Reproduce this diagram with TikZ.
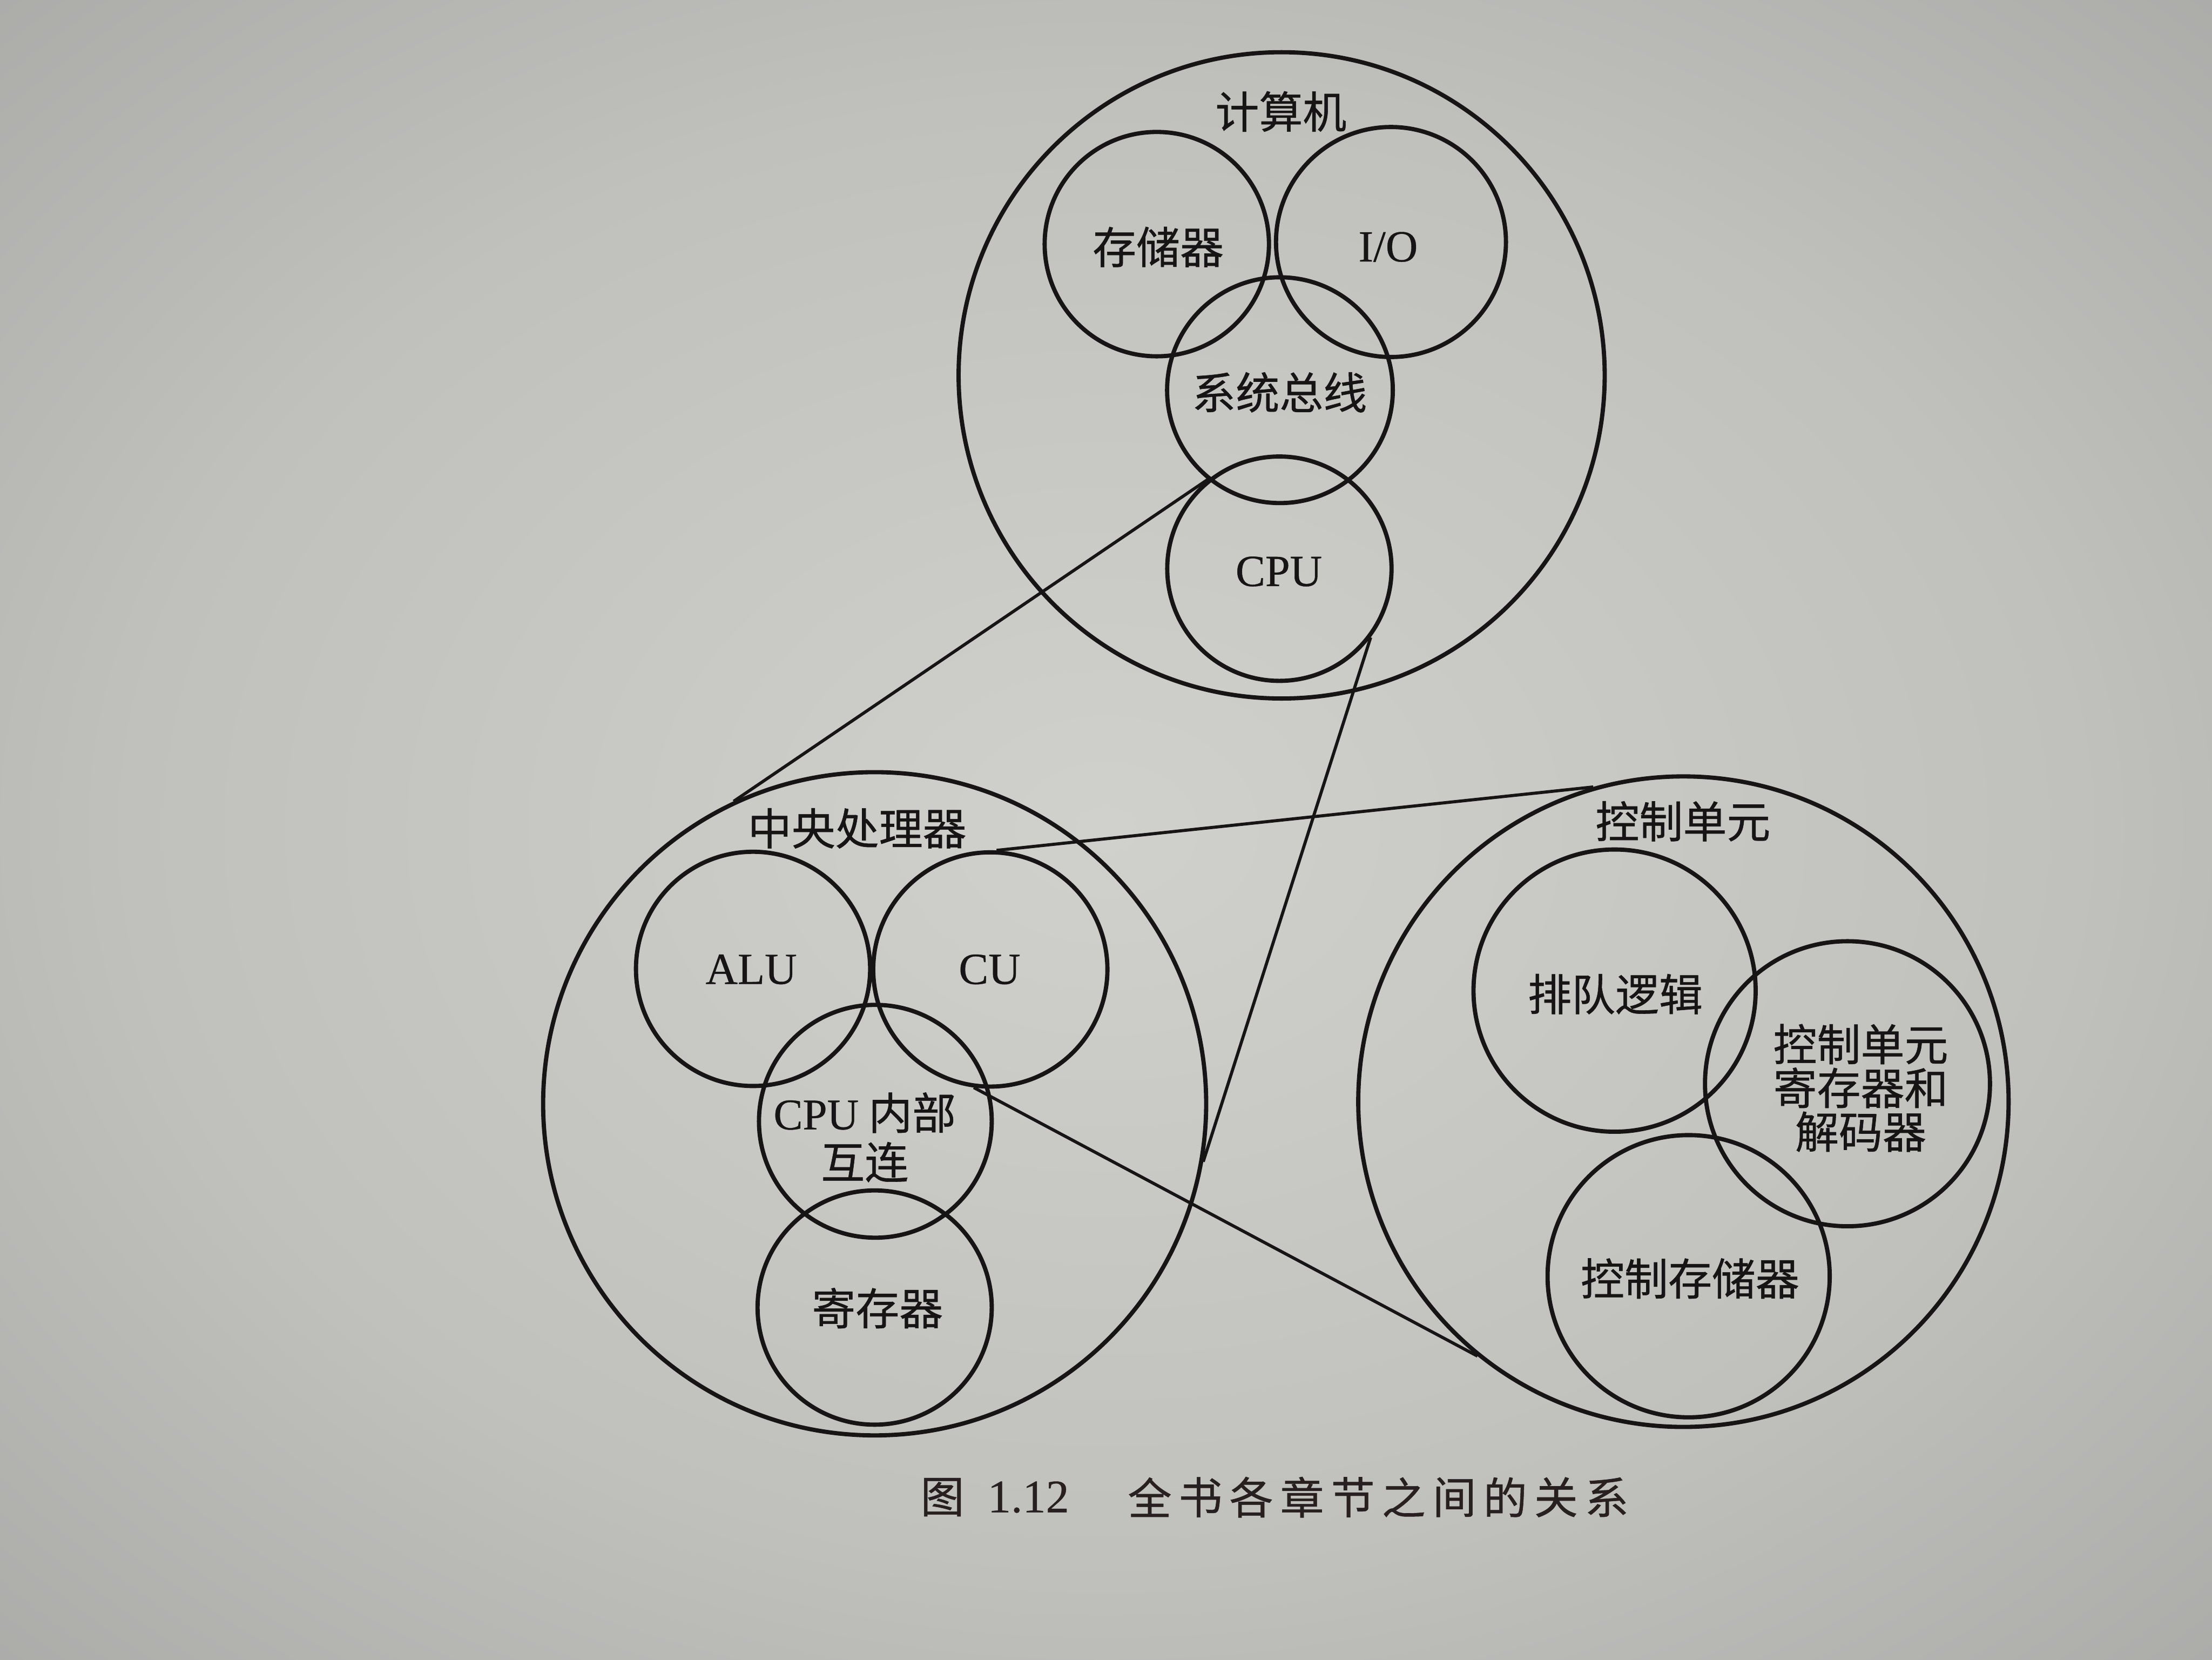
\documentclass[tikz,border=0pt]{standalone}
\usepackage{fontspec}
\setmainfont{Liberation Serif}[FakeBold=0.5]
\newfontfamily\cjk{Noto Sans CJK SC}[FakeBold=0.7]
\definecolor{ink}{RGB}{22,20,20}
\definecolor{capink}{RGB}{40,32,32}
\definecolor{paperA}{RGB}{208,208,205}
\definecolor{paperB}{RGB}{192,192,189}
\definecolor{paperC}{RGB}{150,150,148}
\pgfdeclareradialshading{paper}{\pgfpoint{0bp}{0bp}}{color(0bp)=(paperA); color(22bp)=(paperB); color(50bp)=(paperC)}
\begin{document}
\begin{tikzpicture}[x=1pt,y=-1pt,
  ring/.style={circle, draw=ink, line width=3pt, inner sep=0pt},
  link/.style={draw=ink, line width=2.2pt},
  lab/.style={text=ink, font=\fontsize{31}{31}\selectfont\cjk, align=center, inner sep=0pt},
  latin/.style={text=ink, font=\fontsize{31.5}{33}\selectfont, inner sep=0pt},
  captext/.style={text=capink, font=\fontsize{31}{31}\selectfont\cjk, inner sep=0pt},
]
% page
\useasboundingbox (0,0) rectangle (1568,1176);
\shade[shading=paper] (0,0) rectangle (1568,1176);

% the computer
\node[ring, minimum size=458pt] (computer) at (908.5,266) {};
\node[ring, minimum size=159pt] (mem) at (820,173) {};
\node[ring, minimum size=163pt] (io) at (986,171.5) {};
\node[ring, minimum size=160pt] (bus) at (907.3,276.5) {};
\node[ring, minimum size=159pt] (cpu) at (906.9,403) {};
\node[lab] (tComputer) at (908,79) {计算机};
\node[lab] (tMem) at (821,175) {存储器};
\node[latin] (tIO) at (984,175) {I/O};
\node[lab] (tBus) at (907,278) {系统总线};
\node[latin] (tCPU) at (906.5,405) {CPU};

% the central processor
\node[ring, minimum size=470pt] (proc) at (620,782.2) {};
\node[ring, minimum size=166pt] (alu) at (533.8,686.6) {};
\node[ring, minimum size=166pt] (cu) at (702,687) {};
\node[ring, minimum size=165pt] (inter) at (620.5,794.6) {};
\node[ring, minimum size=166pt] (regs) at (620,926.6) {};
\node[lab] (tProc) at (607.6,587) {中央处理器};
\node[latin] (tALU) at (532.5,687) {ALU};
\node[latin] (tCU) at (701.5,687) {CU};
\node[lab, font=\fontsize{31}{35}\selectfont\cjk] (tInter) at (613,806) {{\rmfamily CPU} 内部\\互连};
\node[lab] (tRegs) at (622,927) {寄存器};

% the control unit
\node[ring, minimum size=461pt] (ctrl) at (1193.3,780.7) {};
\node[ring, minimum size=200pt] (queue) at (1144.5,702) {};
\node[ring, minimum size=202pt] (creg) at (1309.6,768) {};
\node[ring, minimum size=200pt] (cmem) at (1197,904.4) {};
\node[lab] (tCtrl) at (1193,582) {控制单元};
\node[lab] (tQueue) at (1145,704.5) {排队逻辑};
\node[lab] (tCreg) at (1319,771) {控制单元\\寄存器和\\解码器};
\node[lab] (tCmem) at (1198,906) {控制存储器};

% zoom lines
\draw[link] (cpu.128) -- (proc.115);
\draw[link] (cpu.-37) -- (proc.-10);
\draw[link] (cu.87) -- (ctrl.106);
\draw[link] (cu.-98) -- (ctrl.-129);

% caption
\node[captext] (capFig) at (668,1061) {图};
\node[text=capink, font=\fontsize{33}{33}\selectfont, inner sep=0pt] (capNum) at (729,1061) {1.12};
\foreach \c [count=\i from 0] in {全,书,各,章,节,之,间,的,关,系}
  \node[captext] (cap\i) at (815+36*\i,1061) {\c};
\end{tikzpicture}
\end{document}
